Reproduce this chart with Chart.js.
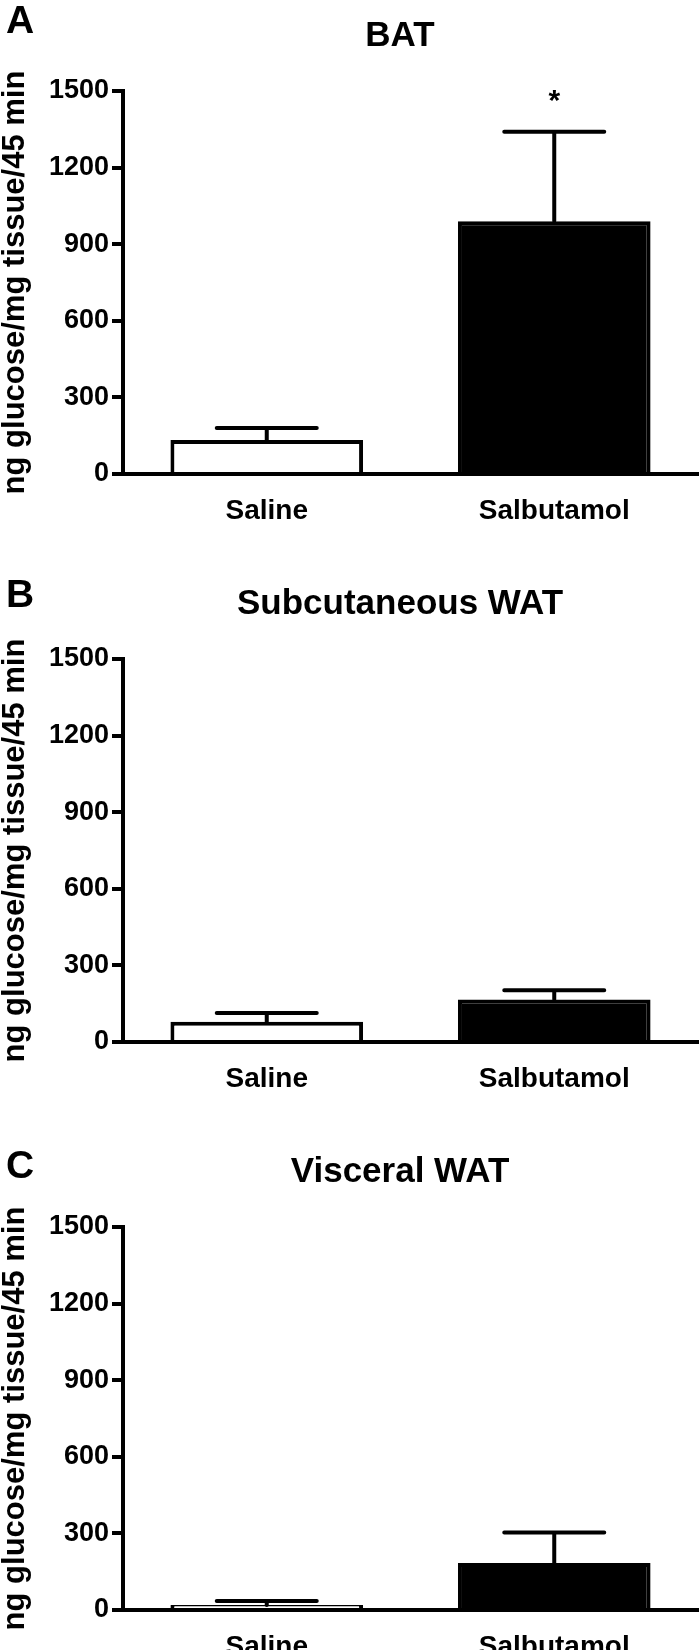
<!DOCTYPE html>
<html>
<head>
<meta charset="utf-8">
<script src="https://cdn.jsdelivr.net/npm/chart.js@4/dist/chart.umd.min.js"></script>
<style>
  html, body { margin: 0; padding: 0; background: #fff; overflow: hidden; }
  body { width: 700px; height: 1650px; position: relative; }
  .panel { position: absolute; left: 0; width: 700px; height: 540px; }
</style>
</head>
<body>
<div class="panel" style="top:0px"><canvas id="chartA" width="700" height="540"></canvas></div>
<div class="panel" style="top:568px"><canvas id="chartB" width="700" height="540"></canvas></div>
<div class="panel" style="top:1136px"><canvas id="chartC" width="700" height="540"></canvas></div>
<script>
// Gruppen und Achse
const categories = ['Saline', 'Salbutamol'];
const yTicks = [0, 300, 600, 900, 1200, 1500];
const yLabel = 'ng glucose/mg tissue/45 min';

// Mittelwerte und Fehler (SEM) je Gewebe
const batValues = [133, 990];
const batErrors = [47, 350];
const batMarks = ['', '*'];

const subValues = [79, 166];
const subErrors = [35, 37];
const subMarks = ['', ''];

const visValues = [20, 184];
const visErrors = [15, 120];
const visMarks = ['', ''];

const panelLetters = ['A', 'B', 'C'];
const panelTitles = ['BAT', 'Subcutaneous WAT', 'Visceral WAT'];

const SANS = '"Liberation Sans", Arial, sans-serif';

// Fehlerbalken, Sternchen, Titel und Buchstabe
const extras = {
    id: 'extras',
    afterDatasetsDraw(chart, args, opts) {
        const ctx = chart.ctx;
        const y = chart.scales.y;
        const meta = chart.getDatasetMeta(0);
        ctx.save();
        ctx.strokeStyle = '#000';
        ctx.lineWidth = 4;
        ctx.lineCap = 'round';
        opts.values.forEach((v, i) => {
            const x = meta.data[i].x;
            const yBar = y.getPixelForValue(v);
            const yTop = y.getPixelForValue(v + opts.errors[i]);
            ctx.beginPath();
            ctx.moveTo(x, yBar);
            ctx.lineTo(x, yTop);
            ctx.moveTo(x - 50, yTop);
            ctx.lineTo(x + 50, yTop);
            ctx.stroke();
            if (opts.marks[i]) {
                ctx.fillStyle = '#000';
                ctx.font = 'bold 30px ' + SANS;
                ctx.textAlign = 'center';
                ctx.textBaseline = 'middle';
                ctx.fillText(opts.marks[i], x, yTop - 30);
            }
        });
        ctx.fillStyle = '#000';
        ctx.textAlign = 'center';
        ctx.textBaseline = 'middle';
        ctx.font = 'bold 35px ' + SANS;
        ctx.fillText(opts.title, 400, 36);
        ctx.textAlign = 'left';
        ctx.textBaseline = 'alphabetic';
        ctx.font = 'bold 39px ' + SANS;
        ctx.fillText(opts.letter, 6, opts.letterY);
        ctx.restore();
    }
};

function makePanel(id, values, errors, marks, idx, letterY) {
    const ctx = document.getElementById(id).getContext('2d');
    return new Chart(ctx, {
        type: 'bar',
        data: {
            labels: categories,
            datasets: [{
                data: values,
                backgroundColor: ['#ffffff', '#000000'],
                borderColor: '#000000',
                borderWidth: 4,
                barPercentage: 0.67,
                categoryPercentage: 1
            }]
        },
        options: {
            responsive: false,
            animation: false,
            layout: { padding: { top: 91, left: 0, right: 2, bottom: 0 } },
            plugins: {
                legend: { display: false },
                tooltip: { enabled: false },
                extras: {
                    values: values,
                    errors: errors,
                    marks: marks,
                    title: panelTitles[idx],
                    letter: panelLetters[idx],
                    letterY: letterY
                }
            },
            scales: {
                x: {
                    grid: { display: false },
                    border: { color: '#000', width: 4 },
                    ticks: { color: '#000', padding: 12, font: { family: SANS, weight: 'bold', size: 28 } },
                    afterFit: s => { s.height = 66; }
                },
                y: {
                    min: 0,
                    max: 1500,
                    afterBuildTicks: s => { s.ticks = yTicks.map(v => ({ value: v })); },
                    grid: { drawOnChartArea: false, drawTicks: true, tickLength: 11, color: '#000', lineWidth: 4 },
                    border: { color: '#000', width: 4 },
                    ticks: {
                        color: '#000',
                        padding: 3,
                        font: { family: SANS, weight: 'bold', size: 27 },
                        callback: v => String(v)
                    },
                    title: {
                        display: true,
                        text: yLabel,
                        color: '#000',
                        padding: 0,
                        font: { family: SANS, weight: 'bold', size: 31, lineHeight: 1 }
                    },
                    afterFit: s => { s.width = 123; }
                }
            }
        },
        plugins: [extras]
    });
}

makePanel('chartA', batValues, batErrors, batMarks, 0, 33);
makePanel('chartB', subValues, subErrors, subMarks, 1, 39);
makePanel('chartC', visValues, visErrors, visMarks, 2, 42);
</script>
</body>
</html>
